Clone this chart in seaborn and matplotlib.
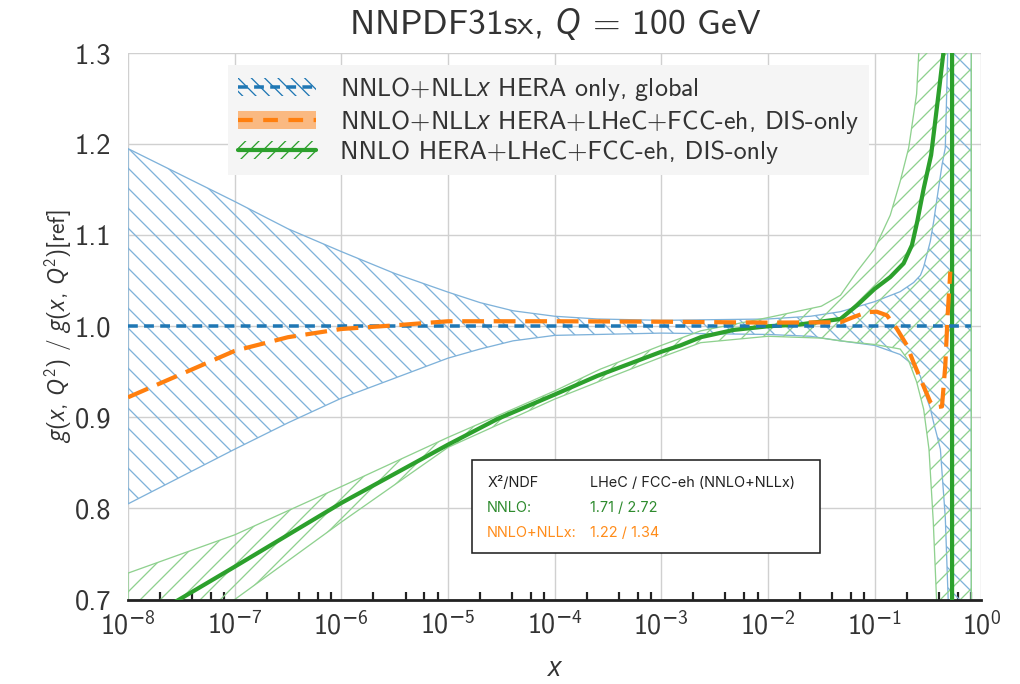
import numpy as np
import pandas as pd
import seaborn as sns
import matplotlib.pyplot as plt
from matplotlib.patches import Patch, Rectangle
from matplotlib.lines import Line2D
from matplotlib.ticker import LogLocator, NullFormatter, FixedLocator

# ---- data (log10 x) ----
# global NNLO+NLLx HERA-only band
glob_logx = [-8, -7.5, -7, -6.5, -6, -5.5, -5, -4.7, -4.39, -4, -3.6, -3, -2, -1.6, -1.32,
             -1, -0.76, -0.634, -0.57, -0.54, -0.478, -0.446, -0.415, -0.383, -0.368,
             -0.337, -0.31, -0.30, -0.093]
glob_lo = [0.805, 0.835, 0.865, 0.894, 0.921, 0.943, 0.965, 0.975, 0.984, 0.990, 0.991,
           0.9925, 0.991, 0.989, 0.984, 0.979, 0.969, 0.957, 0.945, 0.931, 0.91, 0.894,
           0.88, 0.865, 0.84, 0.79, 0.70, -3.0, -3.0]
glob_hi = [1.195, 1.166, 1.137, 1.107, 1.082, 1.058, 1.0375, 1.026, 1.017, 1.011, 1.008,
           1.0065, 1.008, 1.011, 1.016, 1.027, 1.038, 1.048, 1.056, 1.065, 1.093, 1.115,
           1.14, 1.165, 1.177, 1.196, 1.32, 3.0, 3.0]

# NNLO HERA+LHeC+FCC-eh band
nnlo_band_logx = [-8, -7, -6, -5, -4, -3.57, -3, -2.63, -2, -1.5, -1.32, -1.165, -1,
                  -0.853, -0.76, -0.68, -0.606, -0.54, -0.49, -0.45, -0.419, -0.35, -0.30,
                  -0.093]
nnlo_lo = [0.625, 0.700, 0.785, 0.867, 0.920, 0.940, 0.966, 0.982, 0.989, 0.987, 0.984,
           0.982, 0.980, 0.977, 0.975, 0.962, 0.939, 0.909, 0.865, 0.786, 0.700, 0.3,
           -3.0, -3.0]
nnlo_hi = [0.729, 0.771, 0.824, 0.878, 0.929, 0.953, 0.979, 0.995, 1.0095, 1.022, 1.034,
           1.060, 1.085, 1.122, 1.159, 1.196, 1.255, 1.40, 1.6, 1.8, 2.0, 2.5, 3.0, 3.0]

# NNLO central value
nnlo_logx = [-8, -7.52, -7, -6, -5, -4.54, -4, -3.6, -3, -2.82, -2.63, -2.32, -2, -1.70,
             -1.32, -1.165, -1, -0.853, -0.728, -0.65, -0.60, -0.54, -0.47, -0.39,
             -0.355, -0.30, -0.274, -0.273]
nnlo_cv = [0.667, 0.700, 0.736, 0.806, 0.870, 0.898, 0.925, 0.9455, 0.972, 0.979, 0.988,
           0.996, 1.000, 1.002, 1.008, 1.023, 1.041, 1.054, 1.069, 1.089, 1.115, 1.151,
           1.188, 1.265, 1.300, 1.6, 50.0, -50.0]

# NNLO+NLLx HERA+LHeC+FCC-eh central value
nllx_logx = [-8, -7, -6.5, -6, -5.5, -5, -4, -3, -2, -1.32, -1.2, -1.07, -0.98, -0.884,
             -0.79, -0.697, -0.634, -0.54, -0.478, -0.43, -0.368, -0.337, -0.315, -0.29]
nllx_cv = [0.922, 0.973, 0.988, 0.997, 1.001, 1.0055, 1.0055, 1.005, 1.004, 1.0044, 1.010,
           1.0155, 1.016, 1.012, 0.997, 0.979, 0.960, 0.934, 0.917, 0.911, 0.912, 0.957,
           1.012, 1.060]

# global central (ratio to itself)
ref_logx = [-8, -0.093]
ref_cv = [1.0, 1.0]

legend_labels = [r"NNLO+NLL$x$ HERA only, global",
                 r"NNLO+NLL$x$ HERA+LHeC+FCC-eh, DIS-only",
                 r"NNLO HERA+LHeC+FCC-eh, DIS-only"]

chi2_header = ["X²/NDF", "LHeC / FCC-eh (NNLO+NLLx)"]
chi2_nnlo = ["NNLO:", "1.71 / 2.72"]
chi2_nllx = ["NNLO+NLLx:", "1.22 / 1.34"]

blue = "#1f77b4"
orange = "#ff7f0e"
green = "#2ca02c"
blue_light = "#7fb2da"
green_light = "#8fd18f"

# figure is rendered at 120 dpi so the hatch spacing matches; sizes given in px -> pt
DPI = 120
K = 72 / DPI

sns.set_theme(style="whitegrid")
plt.rcParams['font.family'] = ['cmss10', 'DejaVu Sans']
plt.rcParams['mathtext.fontset'] = 'custom'
plt.rcParams['mathtext.rm'] = 'cmss10'
plt.rcParams['mathtext.it'] = 'Open Sans:italic'
plt.rcParams['mathtext.bf'] = 'cmss10'
plt.rcParams['mathtext.sf'] = 'DejaVu Sans'
plt.rcParams['axes.unicode_minus'] = False
plt.rcParams['hatch.linewidth'] = 1.3 * K
plt.rcParams['text.color'] = '#333333'
plt.rcParams['axes.labelcolor'] = '#333333'


def log_label(v, pos):
    e = int(round(np.log10(v)))
    if e < 0:
        return r"$10^{\mathsf{-}%d}$" % (-e)
    return r"$10^{%d}$" % e


fig, ax = plt.subplots(figsize=(1020 / DPI, 684 / DPI), dpi=DPI)
fig.subplots_adjust(left=0.1255, right=0.962, top=0.9225, bottom=0.1235)

gx = 10 ** np.array(glob_logx)
ax.fill_between(gx, glob_lo, glob_hi, facecolor="none", edgecolor=blue_light,
                hatch="\\\\", linewidth=1.3 * K, zorder=2)
bx = 10 ** np.array(nnlo_band_logx)
ax.fill_between(bx, nnlo_lo, nnlo_hi, facecolor="none", edgecolor=green_light,
                hatch="//", linewidth=1.3 * K, zorder=2)

df_ref = pd.DataFrame({"x": 10 ** np.array(ref_logx), "y": ref_cv})
df_nllx = pd.DataFrame({"x": 10 ** np.array(nllx_logx), "y": nllx_cv})
df_nnlo = pd.DataFrame({"x": 10 ** np.array(nnlo_logx), "y": nnlo_cv})

sns.lineplot(data=df_ref, x="x", y="y", ax=ax, color=blue, lw=3.5 * K, sort=False,
             estimator=None, zorder=4).lines[-1].set_dashes((2.8, 1.8))
sns.lineplot(data=df_nllx, x="x", y="y", ax=ax, color=orange, lw=4.2 * K, sort=False,
             estimator=None, zorder=5).lines[-1].set_dashes((5.2, 2.3))
sns.lineplot(data=df_nnlo, x="x", y="y", ax=ax, color=green, lw=4.2 * K, sort=False,
             estimator=None, zorder=3)

ax.set_xscale("log")
ax.set_xlim(1e-8, 1)
ax.set_ylim(0.7, 1.3)
ax.yaxis.set_major_locator(FixedLocator([0.7, 0.8, 0.9, 1.0, 1.1, 1.2, 1.3]))
ax.yaxis.set_major_formatter(plt.FuncFormatter(lambda v, p: f"{v:.1f}"))
ax.xaxis.set_major_locator(LogLocator(base=10, numticks=20))
ax.xaxis.set_major_formatter(plt.FuncFormatter(log_label))
ax.xaxis.set_minor_locator(LogLocator(base=10, subs=[2, 4, 6, 8], numticks=20))
ax.xaxis.set_minor_formatter(NullFormatter())

for s in ["top", "right", "left"]:
    ax.spines[s].set_visible(False)
ax.spines["bottom"].set_color("#222222")
ax.spines["bottom"].set_linewidth(2.8 * K)
ax.grid(True, which="major", color="#d0d0d0", lw=1.4 * K)
ax.grid(False, which="minor")
ax.set_axisbelow(True)
ax.tick_params(axis="x", which="major", direction="in", length=17 * K, width=2.2 * K,
               color="#222222", labelsize=28 * K, labelcolor="#333333", pad=11 * K)
ax.tick_params(axis="x", which="minor", direction="in", length=8 * K, width=2.2 * K,
               color="#222222", bottom=True)
ax.tick_params(axis="y", length=0, labelsize=28.5 * K, labelcolor="#333333", pad=17 * K)

ax.set_title(r"NNPDF31sx, $Q$ = 100 GeV", fontsize=35.5 * K, color="#333333", pad=19 * K)
ax.set_xlabel(r"$x$", fontsize=28 * K, labelpad=17 * K)
ax.set_ylabel(r"$g(x,\,Q^2)$ / $g(x,\,Q^2)$[ref]", fontsize=23.5 * K, labelpad=0)

handles = [
    (Patch(facecolor="none", edgecolor=blue, hatch="\\\\\\", lw=0),
     Line2D([], [], color=blue, lw=3.5 * K, dashes=(2.8, 1.8))),
    (Patch(facecolor=orange, alpha=0.5, edgecolor="none"),
     Line2D([], [], color=orange, lw=4.2 * K, dashes=(3.5, 2.5))),
    (Patch(facecolor="none", edgecolor=green, hatch="///", lw=0),
     Line2D([], [], color=green, lw=4.2 * K)),
]
leg = ax.legend(handles, legend_labels, loc="upper left", bbox_to_anchor=(0.117, 0.978),
                fontsize=26 * K, frameon=True, fancybox=False, framealpha=1,
                facecolor="#f5f5f5", edgecolor="none", handlelength=3.0,
                labelspacing=0.18, borderpad=0.4, handletextpad=0.9, borderaxespad=0)
leg.set_zorder(10)

ax.add_patch(Rectangle((0.403, 0.085), 0.408, 0.170, transform=ax.transAxes,
                       facecolor="white", edgecolor="#222222", lw=1.6 * K, zorder=8))
rows = [(chi2_header, "#222222", 0.213), (chi2_nnlo, "#2e8b2e", 0.168),
        (chi2_nllx, "#ff8c1a", 0.122)]
for texts, col, yy in rows:
    ax.text(0.421, yy, texts[0], transform=ax.transAxes, fontsize=14.5 * K, color=col,
            va="center", ha="left", zorder=9, family=["Inter", "DejaVu Sans"])
    ax.text(0.542, yy, texts[1], transform=ax.transAxes, fontsize=14.5 * K, color=col,
            va="center", ha="left", zorder=9, family=["Inter", "DejaVu Sans"])

fig.savefig("out.png", dpi=DPI)
